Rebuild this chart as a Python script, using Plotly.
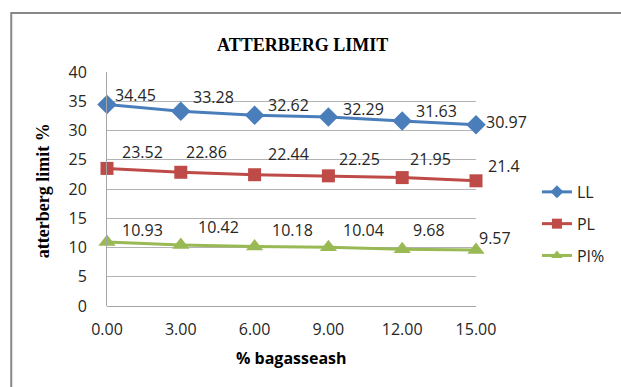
import plotly.graph_objects as go

# Atterberg limits vs. bagasse ash content
ash_pct = [0, 3, 6, 9, 12, 15]
tick_text = ["0.00", "3.00", "6.00", "9.00", "12.00", "15.00"]
ll = [34.45, 33.28, 32.62, 32.29, 31.63, 30.97]
pl = [23.52, 22.86, 22.44, 22.25, 21.95, 21.4]
pi = [10.93, 10.42, 10.18, 10.04, 9.68, 9.57]

series = [
    ("LL", ll, "#4A7EBB", "diamond", 15),
    ("PL", pl, "#BE4B48", "square", 13),
    ("PI%", pi, "#98B954", "triangle-up", 15),
]

# pixel offsets of each value label from its marker
label_dx = {
    "LL": [28, 33, 34, 35, 34, 30],
    "PL": [35, 26, 34, 31, 28, 28],
    "PI%": [35, 38, 38, 35, 27, 19],
}
label_dy = {
    "LL": [9, 14, 10, 8, 10, 3],
    "PL": [16, 20, 21, 17, 19, 15],
    "PI%": [12, 18, 16, 17, 19, 12],
}

sans = "Open Sans, Liberation Sans, sans-serif"
serif = "Liberation Serif, Times New Roman, serif"
label_font = dict(family=sans, size=16, color="#262626")

fig = go.Figure()
annotations = []
for name, vals, color, symbol, msize in series:
    fig.add_trace(go.Scatter(
        x=ash_pct, y=vals, name=name, mode="lines+markers",
        line=dict(color=color, width=3),
        marker=dict(symbol=symbol, size=msize, color=color, line=dict(width=0)),
        cliponaxis=False, showlegend=False,
    ))
    # legend entry with a smaller marker than the plotted one
    fig.add_trace(go.Scatter(
        x=[None], y=[None], name=name, mode="lines+markers",
        line=dict(color=color, width=3),
        marker=dict(symbol=symbol, size=10, color=color, line=dict(width=0)),
        legendgroup=name,
    ))
    for j, (xv, yv) in enumerate(zip(ash_pct, vals)):
        annotations.append(dict(
            x=xv, y=yv, xref="x", yref="y", text=f"{yv:g}",
            showarrow=False, xshift=label_dx[name][j], yshift=label_dy[name][j],
            font=label_font,
        ))

# chart titles
annotations += [
    dict(text="<b>ATTERBERG LIMIT</b>", xref="paper", yref="paper", x=0.53, y=1.115,
         xanchor="center", yanchor="middle", showarrow=False,
         font=dict(family=serif, size=18, color="#000")),
    dict(text="<b>% bagasseash</b>", xref="paper", yref="paper", x=0.5, y=-0.222,
         xanchor="center", yanchor="middle", showarrow=False,
         font=dict(family=sans, size=16, color="#000")),
    dict(text="<b>atterberg limit %</b>", xref="paper", yref="paper", x=-0.173, y=0.491,
         xanchor="center", yanchor="middle", textangle=-90, showarrow=False,
         font=dict(family=serif, size=18, color="#000")),
]

fig.update_layout(
    width=621, height=387,
    margin=dict(l=107, r=144, t=72, b=81),
    paper_bgcolor="white", plot_bgcolor="white",
    showlegend=True,
    legend=dict(x=1.162, y=0.56, xanchor="left", yanchor="top",
                font=dict(family=sans, size=16, color="#262626"),
                tracegroupgap=8, traceorder="grouped",
                bgcolor="rgba(0,0,0,0)"),
    annotations=annotations,
    shapes=[dict(type="rect", xref="paper", yref="paper", x0=-0.2595, x1=1.42, y0=-0.4, y1=1.252,
                 line=dict(color="#888888", width=2), layer="below")],
)

fig.update_xaxes(range=[0, 15], tickvals=ash_pct, ticktext=tick_text,
                 showgrid=False, zeroline=False, showline=False,
                 ticks="", ticklabelstandoff=12,
                 tickfont=dict(family=sans, size=16, color="#262626"))
fig.update_yaxes(range=[0, 40], dtick=5, showgrid=True, gridcolor="#B3B3B3", gridwidth=1,
                 zeroline=True, zerolinecolor="#A6A6A6", zerolinewidth=1,
                 showline=True, linecolor="#A6A6A6", linewidth=1,
                 ticks="", ticklabelstandoff=16,
                 tickfont=dict(family=sans, size=16, color="#262626"))

fig.write_html("out.html")
